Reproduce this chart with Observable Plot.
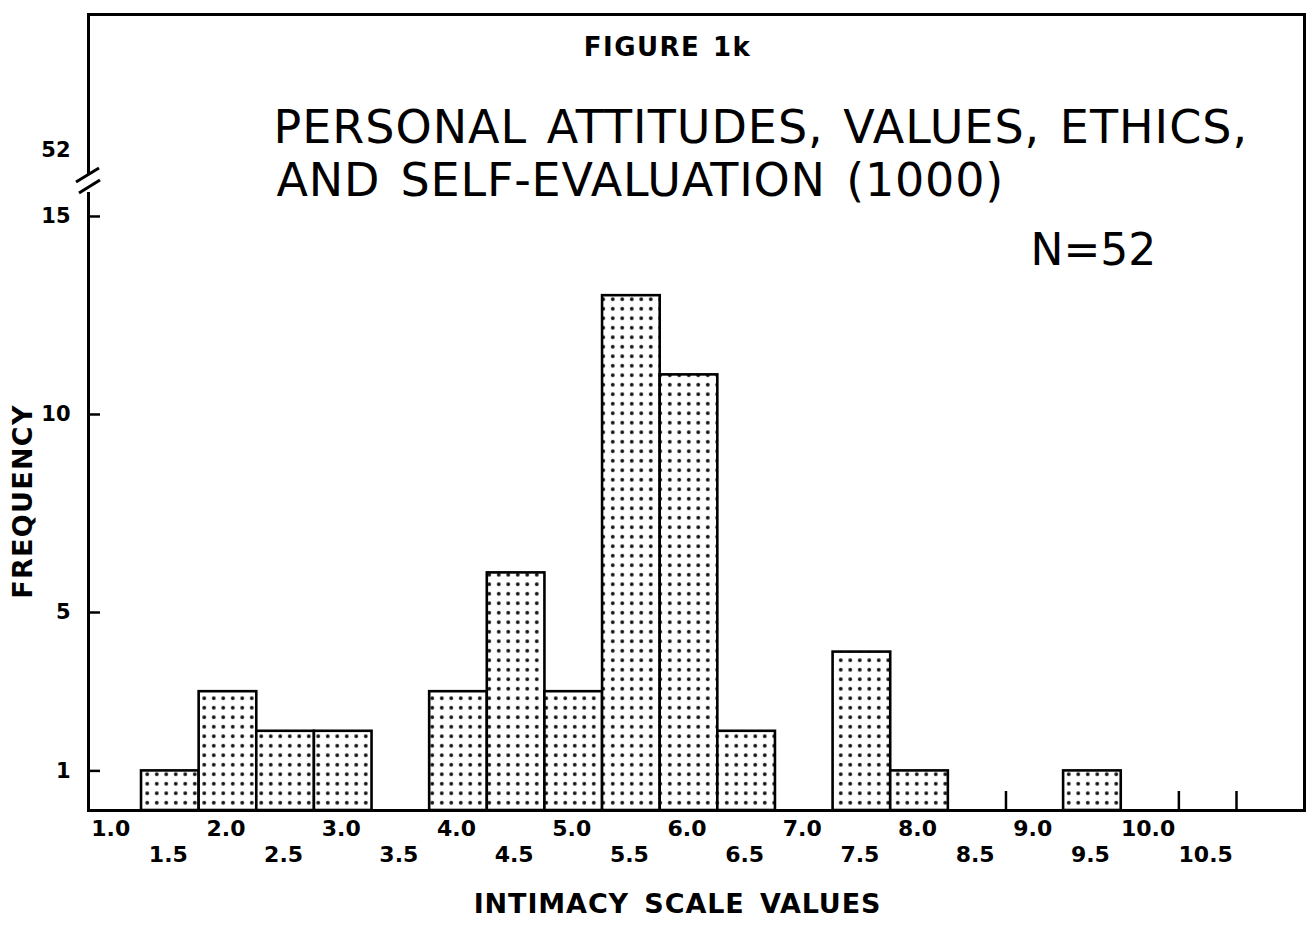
<!DOCTYPE html>
<html>
<head>
<meta charset="utf-8">
<script src="https://cdn.jsdelivr.net/npm/d3@7"></script>
<script src="https://cdn.jsdelivr.net/npm/@observablehq/plot@0.6"></script>
<style>
  html, body { margin: 0; padding: 0; background: #fff; }
  #chart svg { display: block; }
</style>
</head>
<body>
<div id="chart"></div>
<script>
// ---- data ----
const binCenters  = [1.5, 2.0, 2.5, 3.0, 4.0, 4.5, 5.0, 5.5, 6.0, 6.5, 7.5, 8.0, 9.5];
const frequencies = [1,   3,   2,   2,   3,   6,   3,   13,  11,  2,   4,   1,   1];
const binWidth = 0.5;
const xTicksUpper = [1.0, 2.0, 3.0, 4.0, 5.0, 6.0, 7.0, 8.0, 9.0, 10.0];
const xTicksLower = [1.5, 2.5, 3.5, 4.5, 5.5, 6.5, 7.5, 8.5, 9.5, 10.5];
const emptyBinEdges = [8.75, 10.25, 10.75];
const yTicks = [1, 5, 10, 15];
const totalN = 52;
const figureNumber = ["FIGURE 1k"];
const titleLine1 = ["PERSONAL ATTITUDES, VALUES, ETHICS,"];
const titleLine2 = ["AND SELF-EVALUATION (1000)"];
const sampleLabel = ["N=52"];
const xTitle = ["INTIMACY SCALE VALUES"];
const yTitle = ["FREQUENCY"];

const bins = binCenters.map((c, i) => ({center: c, count: frequencies[i]}));
const fmt1 = d3.format(".1f");
const font = "DejaVu Sans, Liberation Sans, sans-serif";

const svg = Plot.plot({
  width: 1314,
  height: 930,
  marginLeft: 88,
  marginRight: 10,
  marginTop: 14,
  marginBottom: 120,
  style: {fontFamily: font, background: "white", color: "black", overflow: "visible"},
  x: {domain: [0.79, 11.34]},
  y: {domain: [0, 20.1]},
  marks: [
    Plot.rectY(bins, {
      x1: d => d.center - binWidth / 2,
      x2: d => d.center + binWidth / 2,
      y: "count",
      fill: "url(#dots)",
      stroke: "black",
      strokeWidth: 2.6
    }),
    Plot.frame({stroke: "black", strokeWidth: 3}),
    Plot.axisY(yTicks, {
      label: null, tickSize: -12, tickPadding: 30, strokeWidth: 2.5,
      fontSize: 21, fontWeight: "bold", tickFormat: d => String(d)
    }),
    Plot.axisX(xTicksUpper, {
      label: null, tickSize: 0, tickPadding: 10, dx: -2,
      fontSize: 22, fontWeight: "bold", tickFormat: fmt1
    }),
    Plot.axisX(xTicksLower, {
      label: null, tickSize: 0, tickPadding: 36, dx: -2,
      fontSize: 22, fontWeight: "bold", tickFormat: fmt1
    }),
    Plot.axisX(emptyBinEdges, {
      label: null, tickSize: -19, strokeWidth: 2.5, tickFormat: () => ""
    }),
    // label of the broken axis (total N)
    Plot.text([String(totalN)], {
      text: d => d, frameAnchor: "top-left", dx: -18, dy: 128,
      textAnchor: "end", fontSize: 21, fontWeight: "bold"
    }),
    Plot.text(figureNumber, {
      text: d => d, frameAnchor: "top", dx: -29, dy: 41,
      textAnchor: "middle", lineAnchor: "bottom", fontSize: 26, fontWeight: "bold"
    }),
    Plot.text(titleLine1, {
      text: d => d, frameAnchor: "top-left", dx: 185, dy: 128,
      textAnchor: "start", lineAnchor: "bottom", fontSize: 46
    }),
    Plot.text(titleLine2, {
      text: d => d, frameAnchor: "top-left", dx: 188, dy: 181,
      textAnchor: "start", lineAnchor: "bottom", fontSize: 46
    }),
    Plot.text(sampleLabel, {
      text: d => d, frameAnchor: "top-right", dx: -274, dy: 250,
      textAnchor: "start", lineAnchor: "bottom", fontSize: 44
    }),
    Plot.text(xTitle, {
      text: d => d, frameAnchor: "bottom", dx: -19, dy: 102,
      textAnchor: "middle", fontSize: 27, fontWeight: "bold"
    }),
    Plot.text(yTitle, {
      text: d => d, frameAnchor: "left", dx: -65, dy: 89,
      textAnchor: "middle", rotate: -90, fontSize: 27, fontWeight: "bold"
    })
  ]
});

const root = d3.select(svg);

// letter spacing of the hand-lettered texts
function spaceOut(str, letter, word) {
  root.selectAll("text")
    .filter(function() { return this.textContent === str; })
    .style("letter-spacing", letter + "px")
    .style("word-spacing", word + "px");
}
spaceOut(figureNumber[0], 1.5, 2);
spaceOut(titleLine1[0], 1.0, 4);
spaceOut(titleLine2[0], 0.8, 5);
spaceOut(xTitle[0], 0.9, 5);
spaceOut(yTitle[0], 1.3, 0);

// dot-stipple fill pattern for the bars
const defs = root.insert("defs", ":first-child");
const pat = defs.append("pattern")
  .attr("id", "dots")
  .attr("patternUnits", "userSpaceOnUse")
  .attr("width", 9.5)
  .attr("height", 9.5);
pat.append("rect").attr("width", 9.5).attr("height", 9.5).attr("fill", "white");
pat.append("circle").attr("cx", 4.75).attr("cy", 4.75).attr("r", 1.9).attr("fill", "#111");

// axis break mark on the y axis (relative to the frame)
const xs = svg.scale("x"), ys = svg.scale("y");
const ax = xs.apply(xs.domain[0]);
const topY = ys.apply(ys.domain[1]);
const brk = root.append("g").attr("aria-label", "axis-break");
brk.append("rect").attr("x", ax - 4).attr("y", topY + 160).attr("width", 8).attr("height", 18).attr("fill", "white");
brk.append("line").attr("x1", ax - 12).attr("y1", topY + 168).attr("x2", ax + 11).attr("y2", topY + 154)
  .attr("stroke", "black").attr("stroke-width", 3);
brk.append("line").attr("x1", ax - 9).attr("y1", topY + 179).attr("x2", ax + 12).attr("y2", topY + 166)
  .attr("stroke", "black").attr("stroke-width", 3);

document.getElementById("chart").appendChild(svg);
</script>
</body>
</html>
